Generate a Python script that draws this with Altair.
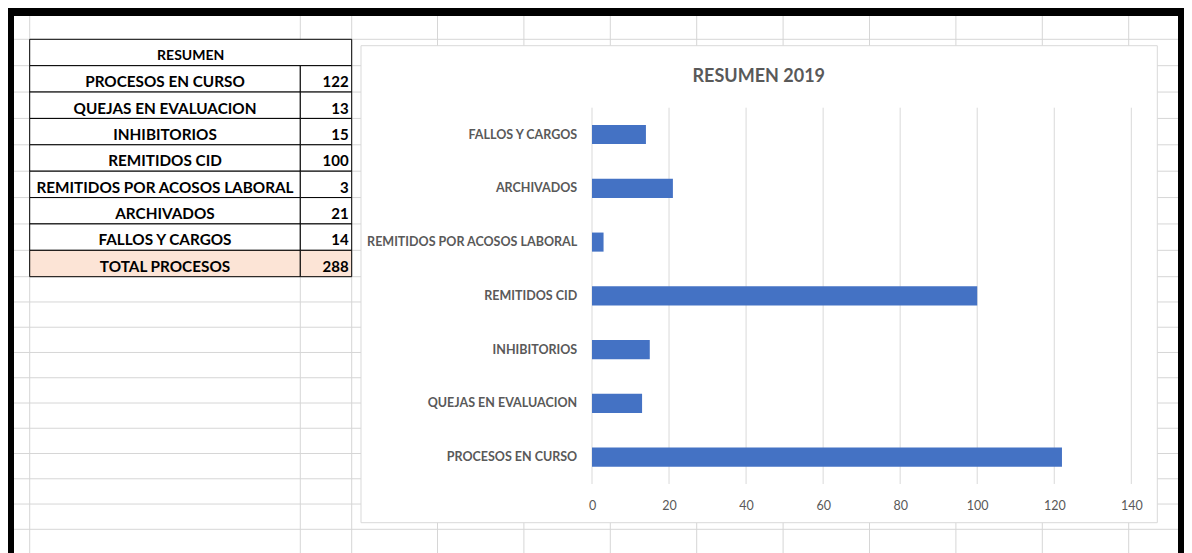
import altair as alt
import pandas as pd

# ---------------- data ----------------
categories = ["PROCESOS EN CURSO", "QUEJAS EN EVALUACION", "INHIBITORIOS", "REMITIDOS CID",
              "REMITIDOS POR ACOSOS LABORAL", "ARCHIVADOS", "FALLOS Y CARGOS"]
values = [122, 13, 15, 100, 3, 21, 14]
table_header = "RESUMEN"
total_label = "TOTAL PROCESOS"
total_value = 288
chart_title = "RESUMEN 2019"
x_ticks = [0, 20, 40, 60, 80, 100, 120, 140]

# ---------------- styles / layout ----------------
W, H = 1176, 545
FONT = "Lato"
GREY = "#595959"
BLUE = "#4472C4"
GRID = "#D9D9D9"
SHEET = "#D6D6D6"
PEACH = "#FCE4D6"

one = pd.DataFrame({"k": [0]})

def rect(x, x2, y, y2, **kw):
    return alt.Chart(one).mark_rect(**kw).encode(
        x=alt.value(x), x2=alt.value(x2), y=alt.value(y), y2=alt.value(y2))

def vline(x, y, y2, color):
    return alt.Chart(one).mark_rule(color=color, strokeWidth=1).encode(
        x=alt.value(x), y=alt.value(y), y2=alt.value(y2))

# ---------- spreadsheet grid (background) ----------
h_top = alt.Chart(alt.sequence(0, 10)).mark_rule(color=SHEET, strokeWidth=1).encode(
    y=alt.Y("data:Q", scale=alt.Scale(domain=[0, 9], range=[31.3, 268.7]), axis=None),
    x=alt.value(6), x2=alt.value(1170))
h_bot = alt.Chart(alt.sequence(1, 11)).mark_rule(color=SHEET, strokeWidth=1).encode(
    y=alt.Y("data:Q", scale=alt.Scale(domain=[0, 10], range=[268.7, 521.3]), axis=None),
    x=alt.value(6), x2=alt.value(1170))
v_cols = alt.Chart(alt.sequence(0, 9)).mark_rule(color=SHEET, strokeWidth=1).encode(
    x=alt.X("data:Q", scale=alt.Scale(domain=[0, 8], range=[429.5, 1120.7]), axis=None),
    y=alt.value(8), y2=alt.value(H))
v_tab = [vline(21.7, 8, H, SHEET), vline(292.3, 8, H, SHEET), vline(343.7, 8, H, SHEET)]

# ---------- black frame ----------
frame = [rect(0, W, 0, 8, fill="black"),
         rect(0, 6, 0, H, fill="black"),
         rect(1170, W, 0, H, fill="black")]

# ---------- summary table ----------
rows = [table_header] + categories + [total_label]
table_df = pd.DataFrame({
    "row": rows,
    "value": [""] + [str(v) for v in values] + [str(total_value)],
    "kind": ["header"] + ["item"] * len(categories) + ["total"],
})
ty = alt.Y("row:N", scale=alt.Scale(domain=rows, range=[31.3, 268.7], paddingInner=0, paddingOuter=0),
           axis=None)
tb = alt.Chart(table_df)
fill_cond = alt.condition("datum.kind == 'total'", alt.value(PEACH), alt.value("white"))

t_head_rect = tb.transform_filter("datum.kind == 'header'").mark_rect(
    stroke="black", strokeWidth=1, fill="white").encode(y=ty, x=alt.value(21.7), x2=alt.value(343.7))
t_lab_rect = tb.transform_filter("datum.kind != 'header'").mark_rect(
    stroke="black", strokeWidth=1).encode(y=ty, x=alt.value(21.7), x2=alt.value(292.3), fill=fill_cond)
t_val_rect = tb.transform_filter("datum.kind != 'header'").mark_rect(
    stroke="black", strokeWidth=1).encode(y=ty, x=alt.value(292.3), x2=alt.value(343.7), fill=fill_cond)
t_head_txt = tb.transform_filter("datum.kind == 'header'").mark_text(
    font=FONT, fontSize=14, fontWeight="bold", color="black", align="center",
    baseline="alphabetic", dy=7.3).encode(y=ty, x=alt.value(182.7), text="row:N")
t_lab_txt = tb.transform_filter("datum.kind != 'header'").mark_text(
    font=FONT, fontSize=15.3, fontWeight="bold", color="black", align="center",
    baseline="alphabetic", dy=8.3).encode(y=ty, x=alt.value(157), text="row:N")
t_val_txt = tb.transform_filter("datum.kind != 'header'").mark_text(
    font=FONT, fontSize=15, fontWeight="bold", color="black", align="right",
    baseline="alphabetic", dy=8.3).encode(y=ty, x=alt.value(340.6), text="value:N")
table = alt.layer(t_head_rect, t_lab_rect, t_val_rect, t_head_txt, t_lab_txt, t_val_txt)

# ---------- chart box + title ----------
chart_box = rect(353, 1149.3, 37.7, 514.7, fill="white", stroke=GRID, strokeWidth=1)
title = alt.Chart(one).mark_text(
    text=chart_title, font=FONT, fontSize=18, fontWeight="bold", color=GREY,
    align="center", baseline="alphabetic").encode(x=alt.value(750.8), y=alt.value(73.5))

# ---------- bar chart ----------
bar_df = pd.DataFrame({"cat": categories, "val": values})
tick_df = pd.DataFrame({"val": x_ticks})
bar_order = categories[::-1]

bx = alt.X("val:Q",
           scale=alt.Scale(domain=[0, 140], range=[584, 1123.3], nice=False, zero=True),
           axis=alt.Axis(orient="bottom", offset=-(H - 476), values=x_ticks, grid=False,
                         domain=False, ticks=False, tickSize=0, labelPadding=15, zindex=2,
                         labelFlush=False, labelOverlap=False,
                         labelFont=FONT, labelFontSize=12.5, labelColor=GREY, title=None))
by = alt.Y("cat:N",
           scale=alt.Scale(domain=bar_order, range=[99.7, 476], paddingInner=0.645, paddingOuter=0.3225),
           axis=alt.Axis(orient="left", offset=-568.7, grid=False, domain=False, ticks=False,
                         tickSize=0, labelPadding=0, labelLimit=0, labelFont=FONT, zindex=2,
                         labelFontSize=12.5, labelFontWeight="bold", labelColor=GREY, title=None))

grid_rules = alt.Chart(tick_df).mark_rule(color=GRID, strokeWidth=1).encode(
    x=bx, y=alt.value(99.7), y2=alt.value(476))
bars = alt.Chart(bar_df).mark_bar(color=BLUE).encode(x=bx, y=by)
bar_layer = alt.layer(grid_rules, bars)

chart = alt.layer(
    h_top, h_bot, v_cols, *v_tab, *frame, chart_box, title, table, bar_layer
).resolve_scale(
    x="independent", y="independent"
).resolve_axis(
    x="independent", y="independent"
).properties(
    width=W, height=H, autosize=alt.AutoSizeParams(type="none"), padding=0, background="white"
).configure_view(strokeWidth=0)

chart.save("out.html", embed_options={"renderer": "svg", "actions": False})
